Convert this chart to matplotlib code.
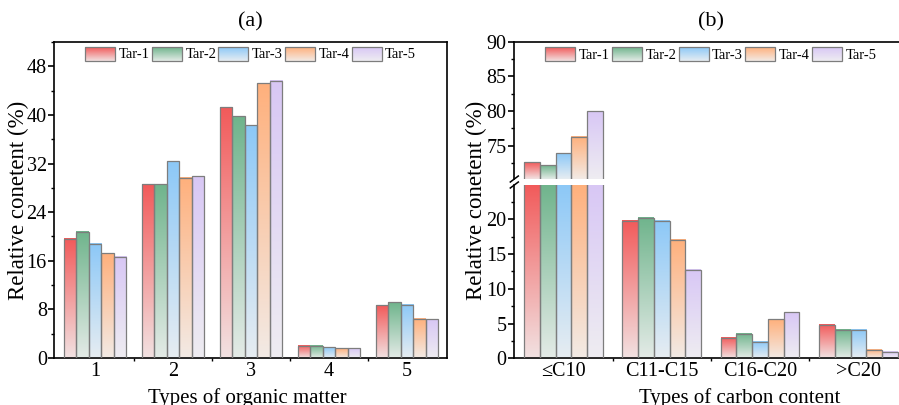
import numpy as np
import matplotlib
matplotlib.use("Agg")
import matplotlib.pyplot as plt
from matplotlib.patches import Patch, Rectangle
from matplotlib.legend_handler import HandlerBase
from matplotlib.image import BboxImage
from matplotlib.transforms import Bbox, TransformedBbox
from matplotlib.colors import to_rgb
from matplotlib.ticker import MultipleLocator, FixedLocator

plt.rcParams["font.family"] = ["Liberation Serif", "DejaVu Serif"]

# ---- data ----------------------------------------------------------------
series = ["Tar-1", "Tar-2", "Tar-3", "Tar-4", "Tar-5"]
colors = ["#f25a5a", "#6fb48c", "#8cc8f7", "#ffb07c", "#d8c7f5"]

organic_types = ["1", "2", "3", "4", "5"]
organic_tar1 = [19.6, 28.6, 41.3, 2.0, 8.7]
organic_tar2 = [20.8, 28.6, 39.8, 2.0, 9.2]
organic_tar3 = [18.8, 32.4, 38.3, 1.8, 8.8]
organic_tar4 = [17.2, 29.7, 45.2, 1.6, 6.5]
organic_tar5 = [16.7, 29.9, 45.6, 1.6, 6.4]

carbon_types = ["\u2264C10", "C11-C15", "C16-C20", ">C20"]
carbon_tar1 = [72.6, 19.75, 2.9, 4.8]
carbon_tar2 = [72.2, 20.2, 3.5, 4.05]
carbon_tar3 = [73.9, 19.7, 2.4, 4.05]
carbon_tar4 = [76.3, 17.0, 5.6, 1.2]
carbon_tar5 = [80.0, 12.7, 6.6, 0.9]

organic_series = [organic_tar1, organic_tar2, organic_tar3, organic_tar4, organic_tar5]
carbon_series = [carbon_tar1, carbon_tar2, carbon_tar3, carbon_tar4, carbon_tar5]

# ---- styling -------------------------------------------------------------
BAR_W = 0.16
EDGE = "#7d7d7d"
SPINE_W = 1.2
TICK_FS = 14.5
LABEL_FS = 16.5
XLABEL_FS = 15
TITLE_FS = 16
LEGEND_FS = 10.5


def gradient(color, n=256):
    top = np.array(to_rgb(color))
    bottom = 0.9 * np.array([0.945, 0.945, 0.945]) + 0.1 * top
    t = np.linspace(0.0, 1.0, n)[:, None]
    rgb = top * (1 - t) + bottom * t
    return rgb[:, None, :]


def gradient_bars(ax, x, values, color, ymin, ymax):
    bars = ax.bar(x, values, width=BAR_W, facecolor="none",
                  edgecolor=EDGE, linewidth=0.9, zorder=3)
    for p in bars.patches:
        x0, w, h = p.get_x(), p.get_width(), p.get_height()
        top = min(h, ymax)
        if top <= ymin:
            continue
        ax.imshow(gradient(color), extent=(x0, x0 + w, ymin, top),
                  aspect="auto", origin="upper", interpolation="bilinear",
                  zorder=2)
    return bars


class GradientHandle(HandlerBase):
    def create_artists(self, legend, orig_handle, xdescent, ydescent,
                       width, height, fontsize, trans):
        color = orig_handle.get_facecolor()
        box = TransformedBbox(Bbox.from_bounds(-xdescent, -ydescent, width, height), trans)
        img = BboxImage(box, interpolation="bilinear", origin="upper")
        img.set_data(gradient(color))
        rect = Rectangle((-xdescent, -ydescent), width, height,
                         facecolor="none", edgecolor=EDGE, linewidth=0.9,
                         transform=trans)
        return [img, rect]


def add_legend(ax, y):
    handles = [Patch(facecolor=c, label=s) for s, c in zip(series, colors)]
    ax.legend(handles=handles, loc="center", bbox_to_anchor=(0.5, y),
              ncol=5, frameon=False, fontsize=LEGEND_FS,
              handler_map={Patch: GradientHandle()},
              handlelength=2.05, handleheight=1.1, handletextpad=0.25,
              columnspacing=0.15, borderaxespad=0)


def style_axis(ax):
    for s in ax.spines.values():
        s.set_linewidth(SPINE_W)
    ax.tick_params(axis="y", which="major", direction="out", length=4,
                   width=SPINE_W, labelsize=TICK_FS, pad=1.5)
    ax.tick_params(axis="y", which="minor", direction="out", length=2,
                   width=1.0)
    ax.tick_params(axis="x", which="major", direction="in", length=4,
                   width=SPINE_W, labelsize=TICK_FS, pad=3)
    ax.tick_params(axis="x", which="minor", direction="out", length=2.5,
                   width=1.0)


fig = plt.figure(figsize=(8.99, 4.05), dpi=100)

# ---- panel (a) -----------------------------------------------------------
axA = fig.add_axes([0.0606, 0.1160, 0.4363, 0.7803])
xa = np.arange(1, len(organic_types) + 1)
ylim_a = (0, 52)
for i, (vals, c) in enumerate(zip(organic_series, colors)):
    gradient_bars(axA, xa + (i - 2) * BAR_W, vals, c, *ylim_a)
axA.set_xlim(0.48, 5.51)
axA.set_ylim(*ylim_a)
axA.set_xticks(xa)
axA.set_xticklabels(organic_types)
axA.xaxis.set_minor_locator(FixedLocator(xa[:-1] + 0.5))
axA.yaxis.set_major_locator(MultipleLocator(8))
axA.yaxis.set_minor_locator(MultipleLocator(4))
style_axis(axA)
add_legend(axA, 0.962)

fig.text(0.2789, 0.946, "(a)", ha="center", va="center", fontsize=TITLE_FS)
fig.text(0.020, 0.506, "Relative conetent (%)", rotation=90,
         ha="center", va="center", fontsize=LABEL_FS)
fig.text(0.275, 0.004, "Types of organic matter", ha="center",
         va="baseline", fontsize=XLABEL_FS)

# ---- panel (b): broken y axis -------------------------------------------
xb = np.arange(1, len(carbon_types) + 1)
ylim_hi = (70.2, 90)
ylim_lo = (0, 24.9)
axHi = fig.add_axes([0.5721, 0.5580, 0.4374, 0.3390])
axLo = fig.add_axes([0.5721, 0.1153, 0.4374, 0.4279])

for i, (vals, c) in enumerate(zip(carbon_series, colors)):
    gradient_bars(axHi, xb + (i - 2) * BAR_W, vals, c, *ylim_hi)
    gradient_bars(axLo, xb + (i - 2) * BAR_W, vals, c, *ylim_lo)

for ax, lim in ((axHi, ylim_hi), (axLo, ylim_lo)):
    ax.set_xlim(0.5, 4.5)
    ax.set_ylim(*lim)
    style_axis(ax)

axHi.spines["bottom"].set_visible(False)
axHi.tick_params(axis="x", which="both", bottom=False, labelbottom=False)
axHi.yaxis.set_major_locator(FixedLocator([75, 80, 85, 90]))
axHi.yaxis.set_minor_locator(FixedLocator([72.5, 77.5, 82.5, 87.5]))

axLo.spines["top"].set_visible(False)
axLo.set_xticks(xb)
axLo.set_xticklabels(carbon_types)
axLo.xaxis.set_minor_locator(FixedLocator(xb[:-1] + 0.5))
axLo.yaxis.set_major_locator(FixedLocator([0, 5, 10, 15, 20]))
axLo.yaxis.set_minor_locator(FixedLocator([2.5, 7.5, 12.5, 17.5, 22.5]))

# break marks on the left spine
dx = 4 / (0.4374 * 899)
axHi.plot([-dx, dx], [-3 / 137.3, 3 / 137.3], transform=axHi.transAxes,
          color="black", lw=1.1, clip_on=False, zorder=5)
axLo.plot([-dx, dx], [1 - 3 / 173.3, 1 + 3 / 173.3], transform=axLo.transAxes,
          color="black", lw=1.1, clip_on=False, zorder=5)

add_legend(axHi, 0.910)

fig.text(0.7908, 0.946, "(b)", ha="center", va="center", fontsize=TITLE_FS)
fig.text(0.530, 0.506, "Relative conetent (%)", rotation=90,
         ha="center", va="center", fontsize=LABEL_FS)
fig.text(0.823, 0.004, "Types of carbon content", ha="center",
         va="baseline", fontsize=XLABEL_FS)

fig.savefig("out.png", dpi=100)
